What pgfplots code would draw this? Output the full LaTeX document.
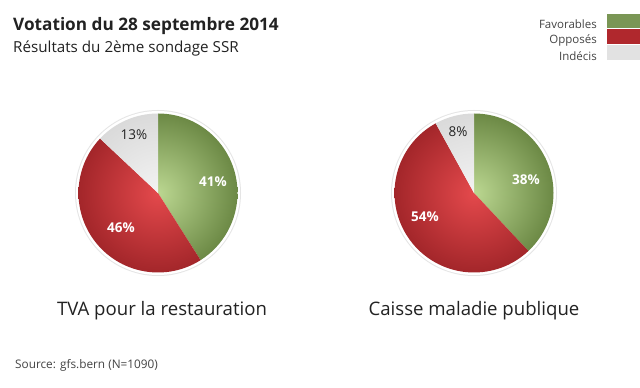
\documentclass[border=0pt]{standalone}
\usepackage{fontspec}
\setmainfont{Open Sans}
\usepackage{pgfplots}
\usepackage{pgfplotstable}
\pgfplotsset{compat=1.18}

\definecolor{gc}{HTML}{BBD791}
\definecolor{ge}{HTML}{6C8945}
\definecolor{rc}{HTML}{E4494C}
\definecolor{re}{HTML}{A3262A}
\definecolor{ic}{HTML}{F3F3F3}
\definecolor{ie}{HTML}{DADADA}
\definecolor{legG}{HTML}{7A9655}
\definecolor{legR}{HTML}{B0282D}
\definecolor{legI}{HTML}{E2E2E2}
\definecolor{txt}{HTML}{222222}
\definecolor{txtb}{HTML}{444444}

\pgfplotstableread{
slice value
Favorables 41
Opposes 46
Indecis 13
}\tvadata
\pgfplotstableread{
slice value
Favorables 38
Opposes 54
Indecis 8
}\caissedata

\newcommand\pieslice[6]{% cx cy r start end color-prefix
  \begin{scope}
    \clip (axis cs:#1,#2) -- ++(#4:#3pt) arc[start angle=#4, end angle=#5, radius=#3pt] -- cycle;
    \shade[inner color=#6c, outer color=#6e] (axis cs:#1,#2) circle[radius=#3pt];
  \end{scope}}

\begin{document}
\begin{tikzpicture}
\pgfplotstablegetelem{0}{value}\of\tvadata \edef\tA{\pgfplotsretval}
\pgfplotstablegetelem{1}{value}\of\tvadata \edef\tB{\pgfplotsretval}
\pgfplotstablegetelem{2}{value}\of\tvadata \edef\tC{\pgfplotsretval}
\pgfplotstablegetelem{0}{value}\of\caissedata \edef\cA{\pgfplotsretval}
\pgfplotstablegetelem{1}{value}\of\caissedata \edef\cB{\pgfplotsretval}
\pgfplotstablegetelem{2}{value}\of\caissedata \edef\cC{\pgfplotsretval}
\pgfmathsetmacro\tE{90-3.6*\tA}
\pgfmathsetmacro\tF{\tE-3.6*\tB}
\pgfmathsetmacro\cE{90-3.6*\cA}
\pgfmathsetmacro\cF{\cE-3.6*\cB}
\begin{axis}[width=640pt,height=388pt,scale only axis,
  xmin=0,xmax=640,ymin=0,ymax=388,hide axis,clip=false]
\fill[white] (axis cs:0,0) rectangle (axis cs:640,388);
% titles
\node[anchor=base west,text=txt,font=\fontsize{17.2}{20}\selectfont\bfseries,inner sep=0pt] at (axis cs:13,357) {Votation du 28 septembre 2014};
\node[anchor=base west,text=txt,font=\fontsize{15.2}{18}\selectfont,inner sep=0pt] at (axis cs:13,335) {Résultats du 2ème sondage SSR};
% legend
\fill[legG] (axis cs:607,374) rectangle (axis cs:640,360);
\fill[legR] (axis cs:607,359) rectangle (axis cs:640,344);
\fill[legI] (axis cs:607,343) rectangle (axis cs:640,328);
\node[anchor=east,text=txtb,font=\fontsize{11.5}{13}\selectfont,inner sep=0pt] at (axis cs:597,364) {Favorables};
\node[anchor=east,text=txtb,font=\fontsize{11.5}{13}\selectfont,inner sep=0pt] at (axis cs:597,348) {Opposés};
\node[anchor=east,text=txtb,font=\fontsize{11.5}{13}\selectfont,inner sep=0pt] at (axis cs:597,332) {Indécis};
% left pie
\fill[black!10] (axis cs:158,195) circle[radius=83pt];
\fill[white] (axis cs:158,195) circle[radius=82pt];
\pieslice{158}{195}{79.5}{90}{\tE}{g}
\pieslice{158}{195}{79.5}{\tE}{\tF}{r}
\pieslice{158}{195}{79.5}{\tF}{-270}{i}
\node[text=white,font=\fontsize{13.5}{15}\selectfont\bfseries] at (axis cs:213,206) {\tA\%};
\node[text=white,font=\fontsize{13.5}{15}\selectfont\bfseries] at (axis cs:121,160) {\tB\%};
\node[text=txt,font=\fontsize{13.5}{15}\selectfont] at (axis cs:134,253) {\tC\%};
% right pie
\fill[black!10] (axis cs:474,195) circle[radius=83pt];
\fill[white] (axis cs:474,195) circle[radius=82pt];
\pieslice{474}{195}{79.5}{90}{\cE}{g}
\pieslice{474}{195}{79.5}{\cE}{\cF}{r}
\pieslice{474}{195}{79.5}{\cF}{-270}{i}
\node[text=white,font=\fontsize{13.5}{15}\selectfont\bfseries] at (axis cs:526,208) {\cA\%};
\node[text=white,font=\fontsize{13.5}{15}\selectfont\bfseries] at (axis cs:425,171) {\cB\%};
\node[text=txt,font=\fontsize{13.5}{15}\selectfont] at (axis cs:458,256) {\cC\%};
% pie names
\node[text=txt,font=\fontsize{18.6}{21}\selectfont] at (axis cs:162,77) {TVA pour la restauration};
\node[text=txt,font=\fontsize{18.6}{21}\selectfont] at (axis cs:474,77) {Caisse maladie publique};
% source
\node[anchor=west,text=txtb,font=\fontsize{11.8}{14}\selectfont,inner sep=0pt] at (axis cs:15,23) {Source: gfs.bern (N=1090)};
\end{axis}
\end{tikzpicture}
\end{document}
